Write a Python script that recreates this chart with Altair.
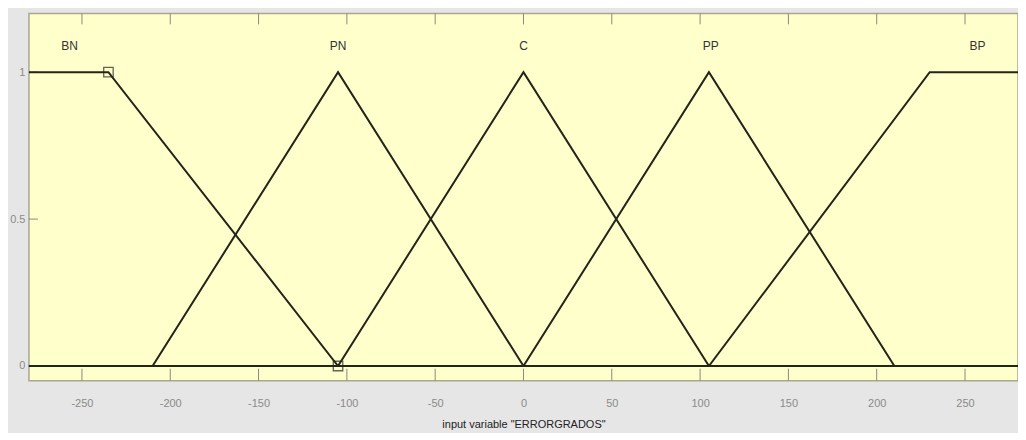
import altair as alt
import pandas as pd

# Membership function breakpoints (x) and membership degrees (y)
mf_names = ["BN", "PN", "C", "PP", "BP"]
mf_x = {
    "BN": [-280, -235, -105, 280],
    "PN": [-280, -210, -105, 0, 280],
    "C":  [-280, -105, 0, 105, 280],
    "PP": [-280, 0, 105, 210, 280],
    "BP": [-280, 105, 230, 280],
}
mf_y = {
    "BN": [1, 1, 0, 0],
    "PN": [0, 0, 1, 0, 0],
    "C":  [0, 0, 1, 0, 0],
    "PP": [0, 0, 1, 0, 0],
    "BP": [0, 0, 1, 1],
}
label_x = [-257, -105, 0, 106, 257]
label_y = [1.09, 1.09, 1.09, 1.09, 1.09]
marker_x = [-235, -105]
marker_y = [1, 0]
x_ticks = [-250, -200, -150, -100, -50, 0, 50, 100, 150, 200, 250]
y_ticks = [0, 0.5, 1]

rows = []
for n in mf_names:
    for i, (xv, yv) in enumerate(zip(mf_x[n], mf_y[n])):
        rows.append({"mf": n, "x": xv, "y": yv, "order": i})
df = pd.DataFrame(rows)
labels = pd.DataFrame({"name": mf_names, "x": label_x, "y": label_y})
markers = pd.DataFrame({"x": marker_x, "y": marker_y})
xt = pd.DataFrame({"x": x_ticks})
yt = pd.DataFrame({"y": y_ticks})

FONT = "Liberation Sans"
xs = alt.Scale(domain=[-280, 280], nice=False, zero=False)
ys = alt.Scale(domain=[-0.05, 1.2], nice=False, zero=False)

xaxis = alt.Axis(values=x_ticks, title='input variable "ERRORGRADOS"', ticks=False,
                 labelColor="#8a8a8a", labelFontSize=11, labelPadding=17,
                 titleFontSize=11, titleFontWeight="normal", titleColor="#222222",
                 titlePadding=10, domain=False, grid=False, labelFont=FONT, titleFont=FONT,
                 labelExpr="datum.value < 0 ? '-' + abs(datum.value) : '' + datum.value")
yaxis = alt.Axis(values=y_ticks, title=None, ticks=False, labelColor="#8a8a8a",
                 labelFontSize=11, labelPadding=4, domain=False, grid=False,
                 labelFont=FONT, format="~g")

lines = alt.Chart(df).mark_line(color="#24241a", strokeWidth=2).encode(
    x=alt.X("x:Q", scale=xs, axis=xaxis),
    y=alt.Y("y:Q", scale=ys, axis=yaxis),
    detail="mf:N",
    order="order:Q",
)

bottom_ticks = alt.Chart(xt).mark_rule(color="#8a8a7a", strokeWidth=1).encode(
    x=alt.X("x:Q", scale=xs), y=alt.value(356), y2=alt.value(368))
top_ticks = alt.Chart(xt).mark_rule(color="#8a8a7a", strokeWidth=1).encode(
    x=alt.X("x:Q", scale=xs), y=alt.value(0), y2=alt.value(11))
left_ticks = alt.Chart(yt).mark_rule(color="#8a8a7a", strokeWidth=1).encode(
    y=alt.Y("y:Q", scale=ys), x=alt.value(0), x2=alt.value(9))

text = alt.Chart(labels).mark_text(fontSize=12, color="#333333", font=FONT).encode(
    x=alt.X("x:Q", scale=xs), y=alt.Y("y:Q", scale=ys), text="name:N")

marks = alt.Chart(markers).mark_point(shape="square", size=90, filled=False,
                                      color="#24241a", strokeWidth=1.3).encode(
    x=alt.X("x:Q", scale=xs), y=alt.Y("y:Q", scale=ys))

chart = alt.layer(bottom_ticks, top_ticks, left_ticks, lines, marks, text).properties(
    width=991, height=368,
    background="#e6e6e6",
    padding={"left": 21, "top": 5, "right": 0, "bottom": 52},
    autosize=alt.AutoSizeParams(type="none"),
).configure_view(fill="#ffffcc", stroke="#a8a890", strokeWidth=1.5)

chart.save("out.html", embed_options={"renderer": "svg", "actions": False})
